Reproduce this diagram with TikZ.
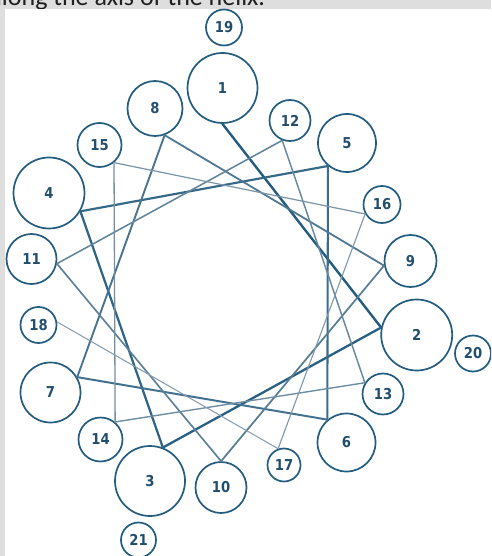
\documentclass[tikz,border=0pt]{standalone}
\usepackage{fontspec}
\newfontfamily\labfont{DejaVu Sans}[FakeStretch=0.88]
\newfontfamily\topfont{Carlito}
\definecolor{helix}{HTML}{245C80}
\definecolor{helixtext}{HTML}{234F6E}
\definecolor{helixlight}{HTML}{93A6B3}
\definecolor{panelgray}{HTML}{DEDEDE}
\begin{document}
\begin{tikzpicture}[x=1pt,y=-1pt,
  res/.style={circle, draw=helix, line width=1.7pt, fill=white, inner sep=0pt,
    minimum size=#1, text=helixtext,
    font=\labfont\bfseries\fontsize{15}{18}\selectfont},
  caption/.style={font=\topfont\fontsize{26}{30}\selectfont, anchor=base west,
    inner sep=0pt, text=black!88}]
\useasboundingbox (0,0) rectangle (491,556);
\clip (0,0) rectangle (491,556);
\fill[panelgray] (0,0) rectangle (491,556);
\node[caption] (cap) at (-10.7,5.5) {along the axis of the helix.};
\fill[white] (5,9) rectangle (491,556);
\coordinate (C) at (222,294);
% residues
\node[res=70] (n1)  at (222.5,88)  {1};
\node[res=71] (n2)  at (416.7,335) {2};
\node[res=70] (n3)  at (150,481)   {3};
\node[res=71] (n4)  at (49,193)    {4};
\node[res=58] (n5)  at (347,143)   {5};
\node[res=58] (n6)  at (346.5,442.5) {6};
\node[res=60] (n7)  at (50.5,392.5) {7};
\node[res=55] (n8)  at (155,108.5) {8};
\node[res=52] (n9)  at (410.5,261) {9};
\node[res=51] (n10) at (221,487.5) {10};
\node[res=50] (n11) at (31.5,259)  {11};
\node[res=41] (n12) at (290,120.5) {12};
\node[res=41] (n13) at (383,394)   {13};
\node[res=44] (n14) at (100.5,439.5) {14};
\node[res=44] (n15) at (99.5,145)  {15};
\node[res=37] (n16) at (382,204.5) {16};
\node[res=33] (n17) at (284,465)   {17};
\node[res=36] (n18) at (38.5,325)  {18};
\node[res=36] (n19) at (224,27.5)  {19};
\node[res=36] (n20) at (473,353.5) {20};
\node[res=35] (n21) at (138.5,540) {21};
% attachment points: border of each circle facing the wheel centre
\foreach \i in {1,...,18}{
  \path (C) -- (n\i) coordinate[pos=1] (a\i);
}
% backbone connectors
\foreach \k in {1,...,17}{
  \pgfmathsetmacro\segw{2.4-0.085*(\k-1)}
  \pgfmathsetmacro\segp{100-5.5*(\k-1)}
  \pgfmathtruncatemacro\segn{\k+1}
  \draw[line width=\segw pt, draw=helix!\segp!helixlight, line cap=round] (a\k) -- (a\segn);
}
\end{tikzpicture}
\end{document}
